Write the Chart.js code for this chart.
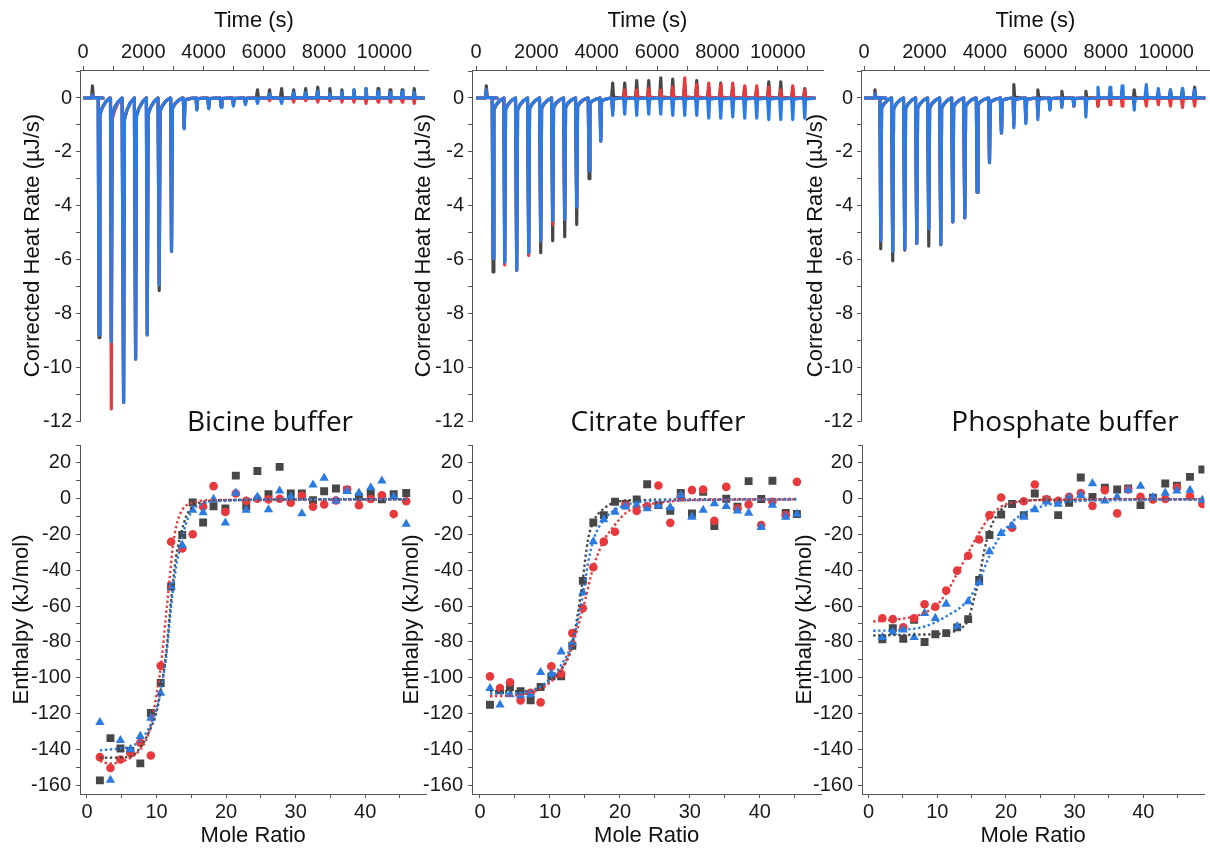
<!DOCTYPE html>
<html>
<head>
<meta charset="utf-8">
<script src="https://cdn.jsdelivr.net/npm/chart.js@4.4.1/dist/chart.umd.min.js"></script>
<style>
  body { margin: 0; background: #fff; width: 1210px; height: 850px; overflow: hidden; position: relative; }
  canvas { position: absolute; }
  .buf { position: absolute; top: 406px; font-family: "Open Sans", sans-serif; font-size: 28px; line-height: 28px; color: #111; transform: translateX(-50%); white-space: nowrap; }
</style>
</head>
<body>
<canvas id="t1" width="432" height="435" style="left:0;top:0"></canvas>
<canvas id="t2" width="427" height="435" style="left:400px;top:0"></canvas>
<canvas id="t3" width="420" height="435" style="left:790px;top:0"></canvas>
<canvas id="b1" width="432" height="425" style="left:0;top:425px"></canvas>
<canvas id="b2" width="428" height="425" style="left:399px;top:425px"></canvas>
<canvas id="b3" width="420" height="425" style="left:790px;top:425px"></canvas>
<div class="buf" style="left:270px">Bicine buffer</div>
<div class="buf" style="left:658px">Citrate buffer</div>
<div class="buf" style="left:1065px">Phosphate buffer</div>
<script>
// ============ 刻度 ============
const timeTicks = [0, 1000, 2000, 3000, 4000, 5000, 6000, 7000, 8000, 9000, 10000, 11000];
const heatTicks = [-12, -11, -10, -9, -8, -7, -6, -5, -4, -3, -2, -1, 0, 1];
const moleTicks = [0, 5, 10, 15, 20, 25, 30, 35, 40, 45];
const enthTicks = [-160, -150, -140, -130, -120, -110, -100, -90, -80, -70, -60, -50, -40, -30, -20, -10, 0, 10, 20, 30];

// ============ 热谱（上排）：注射时间 + 每次峰值 ============
const bicTimes = [300, 520, 927, 1335, 1733, 2120, 2517, 2925, 3345, 3765, 4162, 4570, 4980, 5380, 5780, 6180, 6580, 6980, 7380, 7780, 8180, 8580, 8980, 9380, 9780, 10180, 10580, 10980];
const bicHeatBlue  = [0.1, -8.8, -9.05, -11.3, -9.7, -8.8, -6.95, -5.7, -1.15, -0.45, -0.4, -0.35, -0.3, -0.25, -0.2, 0.15, -0.2, 0.2, 0.2, 0.25, 0.15, 0.2, 0.3, 0.35, 0.25, 0.2, 0.25, 0.2];
const bicHeatRed   = [0.1, -8.8, -11.55, -11.3, -9.7, -8.8, -6.9, -5.7, -1.1, -0.4, -0.35, -0.3, -0.25, -0.2, -0.15, -0.1, -0.15, -0.15, -0.1, -0.15, -0.1, -0.15, -0.15, -0.2, -0.15, -0.15, -0.15, -0.2];
const bicHeatBlack = [0.45, -8.9, -9.0, -11.3, -9.7, -8.8, -7.15, -5.7, -1.1, -0.4, -0.35, -0.3, -0.25, -0.2, 0.3, 0.3, 0.35, 0.3, 0.35, 0.4, 0.35, 0.3, 0.3, 0.35, 0.35, 0.3, 0.3, 0.35];

const citTimes = [330, 552, 939, 1337, 1735, 2133, 2530, 2928, 3326, 3735, 4122, 4519, 4917, 5315, 5713, 6111, 6508, 6906, 7304, 7702, 8100, 8497, 8895, 9293, 9691, 10089, 10486, 10884];
const citHeatBlue  = [0.3, -5.96, -6.1, -6.4, -5.75, -5.3, -4.55, -4.5, -4.05, -2.7, -1.6, -0.65, -0.6, -0.65, -0.6, -0.6, -0.65, -0.65, -0.65, -0.75, -0.75, -0.7, -0.75, -0.75, -0.8, -0.8, -0.8, -0.75];
const citHeatRed   = [0.3, -5.96, -6.2, -6.4, -5.85, -5.3, -4.7, -4.5, -4.05, -2.7, -1.6, -0.5, 0.3, 0.3, 0.35, 0.3, 0.4, 0.75, 0.5, 0.55, 0.5, 0.55, 0.45, 0.45, 0.4, 0.3, 0.45, 0.3];
const citHeatBlack = [0.45, -6.46, -6.1, -6.4, -5.75, -5.75, -5.3, -5.15, -4.7, -3.0, -1.6, 0.55, 0.55, 0.65, 0.65, 0.75, 0.7, 0.5, 0.65, 0.4, 0.55, 0.4, 0.4, 0.35, 0.6, 0.6, 0.35, 0.35];

const phoTimes = [350, 541, 938, 1336, 1733, 2131, 2528, 2926, 3323, 3732, 4140, 4537, 4946, 5343, 5741, 6138, 6536, 6933, 7331, 7730, 8130, 8530, 8930, 9330, 9730, 10130, 10530, 10930];
const phoHeatBlue  = [0.15, -5.3, -5.7, -5.6, -5.4, -4.85, -5.45, -4.6, -4.45, -3.5, -2.4, -1.3, -1.1, -0.95, -0.8, -0.45, -0.35, -0.3, -0.7, 0.4, 0.4, 0.45, -0.45, 0.5, 0.35, 0.3, 0.35, 0.3];
const phoHeatRed   = [0.15, -5.3, -5.7, -5.6, -5.4, -4.85, -5.45, -4.6, -4.45, -3.5, -2.4, -1.3, -1.0, -0.9, -0.7, -0.4, -0.3, -0.3, -0.25, -0.3, -0.25, -0.3, -0.25, -0.3, -0.25, -0.3, -0.35, -0.3];
const phoHeatBlack = [0.3, -5.6, -6.05, -5.65, -5.4, -5.5, -5.45, -4.6, -4.45, -3.5, -2.4, -1.3, 0.5, -0.8, 0.3, -0.4, 0.25, -0.3, 0.25, -0.3, 0.2, 0.25, 0.3, 0.25, 0.2, 0.3, 0.35, 0.4];

// 单次注射峰形 [相对时间 s, 峰值比例]
const spikeShape = [[-15, 0], [12, 1], [40, 0.07], [120, 0.04], [240, 0.015], [370, 0]];

// ============ 滴定曲线（下排） ============
const bicMR = [1.86, 3.38, 4.81, 6.24, 7.67, 9.19, 10.6, 12.1, 13.7, 15.2, 16.7, 18.2, 19.9, 21.4, 22.9, 24.5, 26.1, 27.7, 29.3, 30.9, 32.5, 34.1, 35.8, 37.4, 39.1, 40.8, 42.4, 44.1, 45.9];
const bicBlack = [-157.4, -133.8, -139.6, -141, -147.9, -119.7, -103, -49.1, -20.3, -2.1, -13.3, -4.2, -5.5, 12.9, -4.2, 15.5, 2.5, 17.8, 2.9, 2.9, -0.8, 4.2, 5.7, 4.8, 1, 2.9, -0.4, 2.5, 3.2];
const bicRed   = [-144.4, -150.5, -145.7, -142, -136.4, -143.5, -93.3, -24.1, -27.8, -19.9, -4.5, 7, -7.4, 2.9, -1.2, 0, -0.4, 0, -2.3, 1.6, -4.5, -3.2, -1, 5.1, -3.6, -0.2, 1.9, -8.6, -1.4];
const bicBlue  = [-125, -157.2, -135, -140.1, -132.7, -122.5, -108.6, -49.1, -26, -6.4, -7.7, -0.3, -13.5, 3.2, -6.4, 1, -6.1, 4.4, 1, -8.3, 7.7, 11.6, -1.2, 4.2, 3.2, 6.2, 10, 1, -14.2];
const bicFitBlack = [[1.86, -144.8], [4.81, -144.6], [6.24, -144.2], [7.67, -139], [9.2, -128], [9.96, -119.7], [10.63, -106.7], [11.39, -86.2], [12.15, -54.7], [12.82, -32.4], [13.54, -19.4], [14.25, -10.1], [15.2, -4.5], [16.73, -1.8], [19.97, -0.8], [45.9, -0.3]];
const bicFitRed   = [[1.86, -146.6], [3.29, -148], [4.81, -147.2], [6.24, -144.8], [7.67, -140.1], [8.53, -134.5], [9.2, -126.2], [9.96, -110.4], [10.63, -93.7], [11.39, -64], [11.87, -45.4], [12.34, -26.8], [12.82, -15.7], [13.68, -6.4], [15.2, -2.3], [18.26, -0.8], [45.9, -0.4]];
const bicFitBlue  = [[1.86, -140.6], [4.81, -139.5], [6.24, -138.5], [7.67, -135], [9.2, -126], [9.96, -117.8], [10.63, -106.7], [11.39, -88.1], [12.15, -58.4], [12.82, -38], [13.54, -25], [14.25, -13.8], [15.2, -6.4], [16.73, -2.7], [19.97, -1.2], [25.7, -0.4], [45.9, -0.3]];

const citMR = [1.43, 2.86, 4.29, 5.81, 7.24, 8.67, 10.2, 11.6, 13.2, 14.7, 16.2, 17.7, 19.3, 20.8, 22.4, 23.9, 25.5, 27.2, 28.7, 30.3, 31.9, 33.5, 35.2, 36.8, 38.4, 40.2, 41.8, 43.7, 45.3];
const citBlack = [-115.1, -107, -105.2, -107.6, -112.7, -105.2, -99.3, -99.3, -82.2, -45.9, -13.3, -9.2, -1.7, -3.0, -0.4, 8.1, -3.6, -6.8, 3.2, -8.3, 3.9, -15.3, 0, -4.5, 9.8, -0.2, 10, -8, -8.6];
const citRed   = [-99.3, -105.8, -102.6, -112.7, -108.5, -113.8, -93.7, -97.8, -75.1, -61.2, -38.3, -24, -18.5, -3.6, -6.9, -4.2, 7.4, -13.5, 1, 4.8, 5.1, -12.3, 6.6, -5.5, -3.2, -14.7, -1.7, -9.2, 9.4];
const citBlue  = [-106, -115.2, -109.5, -110, -109.5, -97, -97.8, -85.5, -80.7, -52.5, -24, -11.6, -7.4, -4.5, -3.6, -5.5, -4, -4.9, 1.9, -10.2, -6.4, -2.7, -4.2, -6.8, -8, -16, -3.6, -10.2, -8.6];
const citFitBlack = [[1.43, -107.6], [7.24, -107.6], [8.67, -105.2], [10.2, -101], [11.63, -95.5], [13.16, -82.5], [13.92, -65.8], [14.68, -45.4], [15.44, -23], [16.21, -12.9], [17.73, -5.5], [19.26, -2.1], [21.93, -0.8], [45.28, -0.2]];
const citFitRed   = [[1.43, -110.4], [5.81, -109.5], [8.67, -106.3], [10.2, -102], [11.63, -95.5], [13.16, -82.5], [14.68, -62.1], [16.21, -38], [17.16, -28], [17.73, -23.1], [19.26, -14.7], [20.78, -8.2], [22.4, -4.9], [25.55, -2.3], [30.31, -0.8], [45.28, -0.4]];
const citFitBlue  = [[1.43, -108.9], [5.81, -108.5], [8.67, -104.8], [10.2, -100], [11.63, -92.8], [13.16, -80.7], [14.68, -54.7], [15.44, -36], [16.21, -23.1], [17.73, -11.6], [19.26, -6.4], [20.78, -3.6], [23.93, -1.4], [45.28, -0.4]];

const phoMR = [2.0, 3.53, 5.05, 6.63, 8.15, 9.72, 11.3, 12.9, 14.5, 16.1, 17.6, 19.3, 20.9, 22.6, 24.2, 25.9, 27.6, 29.2, 30.9, 32.6, 34.4, 36.2, 37.8, 39.6, 41.4, 43.2, 44.9, 46.8, 48.6];
const phoBlack = [-78.5, -72.3, -78.3, -67.7, -80.1, -75.7, -75.1, -71.9, -67.3, -45.4, -20.3, -8.8, -3, -9.2, 2.9, -0.5, -9.2, -2.3, 11.8, 1, 6.2, 5.1, 5.7, -3.6, 0.5, 8.5, 7.2, 12.2, 16.3];
const phoRed   = [-66.8, -67.3, -71.9, -66.8, -59, -60.4, -51.3, -40.2, -31.9, -22.8, -9.2, 0.7, -16.2, -1.4, 7.9, -0.4, -1.2, 1, 3.2, -4, 4.8, -8.2, 5.1, 1, -0.4, -0.2, 6.2, 1.4, -3];
const phoBlue  = [-77.4, -74.6, -73.3, -77.4, -64, -66.8, -58.8, -71.4, -57.5, -46.9, -29.6, -19.3, -15.2, -10.2, -6, -1.7, -3, 0.5, 1.9, 8.5, -1.2, 1, 4.8, 7, 0.7, 3.2, 4.4, 4.8, -0.8];
const phoFitBlack = [[0.67, -76.4], [6.63, -76], [11.3, -75.1], [12.92, -73.3], [14.49, -67.7], [15.44, -54.7], [16.06, -45.4], [16.87, -28.7], [17.64, -17.5], [19.26, -6.4], [20.92, -2.7], [24.26, -0.8], [48.57, -0.3]];
const phoFitRed   = [[0.67, -68.6], [3.53, -67.7], [6.63, -65.8], [8.15, -63.6], [9.72, -60.3], [11.3, -52.8], [12.92, -41.7], [14.49, -30.6], [16.06, -19.3], [17.64, -10.2], [19.26, -4.5], [20.92, -2.3], [24.26, -0.8], [29.27, -0.4], [48.57, -0.3]];
const phoFitBlue  = [[0.67, -73.8], [4.96, -73.3], [8.15, -71.4], [11.3, -65.8], [14.49, -56.5], [16.06, -46.3], [17.64, -31.5], [19.26, -20.3], [20.92, -12.9], [22.59, -8.2], [25.93, -3.6], [29.27, -1.7], [36.42, -0.8], [48.57, -0.4]];

// ============ 样式 ============
const BLUE = '#2a7be2', RED = '#e8393d', DARK = '#474747', AXIS = '#555';
Chart.defaults.font.family = '"Liberation Sans", Arial, sans-serif';
Chart.defaults.color = '#1a1a1a';

// 固定轴宽/高，去掉标签溢出留白，保证各面板绘图区精确对齐
const fixAxis = (size, horiz) => s => {
  if (horiz) s.height = size; else s.width = size;
  s.paddingLeft = s.paddingRight = s.paddingTop = s.paddingBottom = 0;
};

function axis(o) {
  return {
    type: 'linear', position: o.pos, min: o.min, max: o.max,
    afterBuildTicks: s => { s.ticks = o.list.map(v => ({ value: v })); },
    afterFit: fixAxis(o.size, o.pos === 'top' || o.pos === 'bottom'),
    ticks: { autoSkip: false, maxRotation: 0, padding: o.tickPad, font: { size: 20 }, callback: v => (v % o.every === 0 ? String(v) : '') },
    grid: { drawOnChartArea: false, tickLength: 4, color: AXIS },
    border: { color: AXIS },
    title: { display: true, text: o.title, font: { size: 22 }, color: '#111', padding: o.titlePad }
  };
}

function trace(times, peaks) {
  const pts = [{ x: 0, y: 0 }];
  times.forEach((t, i) => spikeShape.forEach(([dt, f]) => pts.push({ x: t + dt, y: peaks[i] * f })));
  return pts;
}
const heatSet = (pts, color) => ({ data: pts, borderColor: color, borderWidth: 3.2, pointRadius: 0, tension: 0, borderJoinStyle: 'round' });

const dotSet = (xs, ys, color, shape, r) => ({
  data: xs.map((x, i) => ({ x, y: ys[i] })), backgroundColor: color, borderColor: color, borderWidth: 0,
  pointStyle: shape, pointRadius: r, showLine: false
});
const fitSet = (pairs, color) => ({
  data: pairs.map(([x, y]) => ({ x, y })), showLine: true, borderColor: color, borderWidth: 2.4,
  borderDash: [2.4, 2.6], pointRadius: 0, cubicInterpolationMode: 'monotone'
});

const baseOpts = pad => ({
  responsive: false, animation: false, devicePixelRatio: 1,
  layout: { padding: pad },
  plugins: { legend: { display: false }, tooltip: { enabled: false } }
});

// ---- 上排 ----
const tops = [
  { id: 't1', t: bicTimes, b: bicHeatBlue, r: bicHeatRed, k: bicHeatBlack, yw: 80, tp: 20, right: 4, min: -100, max: 11450 },
  { id: 't2', t: citTimes, b: citHeatBlue, r: citHeatRed, k: citHeatBlack, yw: 72, tp: 11, right: 4, min: -133, max: 11500 },
  { id: 't3', t: phoTimes, b: phoHeatBlue, r: phoHeatRed, k: phoHeatBlack, yw: 71, tp: 12.6, right: 0, min: -100, max: 11450 }
];
tops.forEach(p => {
  new Chart(document.getElementById(p.id), {
    type: 'line',
    data: { datasets: [heatSet(trace(p.t, p.b), BLUE), heatSet(trace(p.t, p.r), RED), heatSet(trace(p.t, p.k), DARK)] },
    options: {
      ...baseOpts({ top: 0, right: p.right, bottom: 14, left: 0 }),
      scales: {
        x: axis({ pos: 'top', min: p.min, max: p.max, list: timeTicks, every: 2000, size: 70, tickPad: 2, title: 'Time (s)', titlePad: { top: 8, bottom: 0 } }),
        y: axis({ pos: 'left', min: -12, max: 1.04, list: heatTicks, every: 2, size: p.yw, tickPad: 4, title: 'Corrected Heat Rate (µJ/s)', titlePad: { top: p.tp, bottom: 0 } })
      }
    }
  });
});

// ---- 下排 ----
const bottoms = [
  { id: 'b1', x: bicMR, k: bicBlack, r: bicRed, b: bicBlue, fk: bicFitBlack, fr: bicFitRed, fb: bicFitBlue, yw: 80, tp: 9, right: 4, min: -1, max: 48.8 },
  { id: 'b2', x: citMR, k: citBlack, r: citRed, b: citBlue, fk: citFitBlack, fr: citFitRed, fb: citFitBlue, yw: 73, tp: 0, right: 4, min: -1.14, max: 48.8 },
  { id: 'b3', x: phoMR, k: phoBlack, r: phoRed, b: phoBlue, fk: phoFitBlack, fr: phoFitRed, fb: phoFitBlue, yw: 72, tp: 2, right: 0, min: -0.96, max: 48.9 }
];
bottoms.forEach(p => {
  new Chart(document.getElementById(p.id), {
    type: 'scatter',
    data: {
      datasets: [
        fitSet(p.fb, BLUE), fitSet(p.fr, RED), fitSet(p.fk, DARK),
        dotSet(p.x, p.b, BLUE, 'triangle', 5.4), dotSet(p.x, p.r, RED, 'circle', 4.3), dotSet(p.x, p.k, DARK, 'rect', 5.6)
      ]
    },
    options: {
      ...baseOpts({ top: 20, right: p.right, bottom: 0, left: 0 }),
      scales: {
        x: axis({ pos: 'bottom', min: p.min, max: p.max, list: moleTicks, every: 10, size: 56, tickPad: 2, title: 'Mole Ratio', titlePad: { top: 0, bottom: 1.3 } }),
        y: axis({ pos: 'left', min: -165, max: 30, list: enthTicks, every: 20, size: p.yw, tickPad: 5, title: 'Enthalpy (kJ/mol)', titlePad: { top: p.tp, bottom: 0 } })
      }
    }
  });
});
</script>
</body>
</html>
